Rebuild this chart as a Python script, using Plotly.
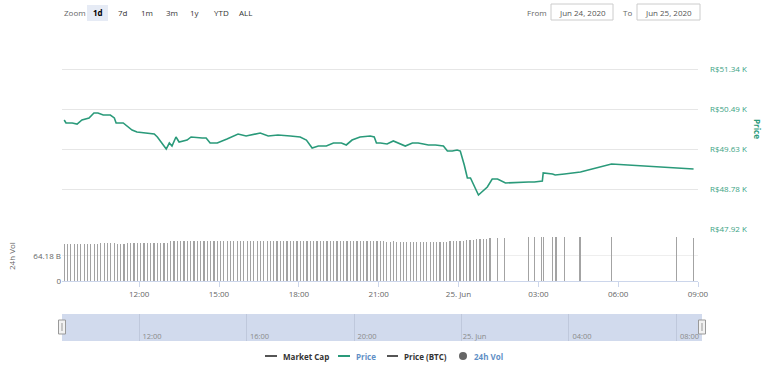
import plotly.graph_objects as go
import pandas as pd

# ---------------- data ----------------
price_times = [
    "2020-06-24 09:11", "2020-06-24 09:15", "2020-06-24 09:29", "2020-06-24 09:40", "2020-06-24 09:51",
    "2020-06-24 10:03", "2020-06-24 10:07", "2020-06-24 10:18", "2020-06-24 10:27", "2020-06-24 10:39",
    "2020-06-24 10:55", "2020-06-24 11:04", "2020-06-24 11:08", "2020-06-24 11:24", "2020-06-24 11:44",
    "2020-06-24 11:55", "2020-06-24 12:18", "2020-06-24 12:34", "2020-06-24 12:41", "2020-06-24 12:52",
    "2020-06-24 13:01", "2020-06-24 13:08", "2020-06-24 13:14", "2020-06-24 13:23", "2020-06-24 13:30",
    "2020-06-24 13:48", "2020-06-24 13:57", "2020-06-24 14:22", "2020-06-24 14:31", "2020-06-24 14:40",
    "2020-06-24 14:56", "2020-06-24 15:18", "2020-06-24 15:43", "2020-06-24 16:01", "2020-06-24 16:15",
    "2020-06-24 16:33", "2020-06-24 16:51", "2020-06-24 17:13", "2020-06-24 17:41", "2020-06-24 18:03",
    "2020-06-24 18:17", "2020-06-24 18:30", "2020-06-24 18:44", "2020-06-24 19:02", "2020-06-24 19:18",
    "2020-06-24 19:36", "2020-06-24 19:47", "2020-06-24 20:00", "2020-06-24 20:18", "2020-06-24 20:41",
    "2020-06-24 20:50", "2020-06-24 20:55", "2020-06-24 21:04", "2020-06-24 21:19", "2020-06-24 21:33",
    "2020-06-24 21:44", "2020-06-24 22:00", "2020-06-24 22:16", "2020-06-24 22:29", "2020-06-24 22:41",
    "2020-06-24 22:52", "2020-06-24 23:08", "2020-06-24 23:19", "2020-06-24 23:26", "2020-06-24 23:35",
    "2020-06-24 23:46", "2020-06-24 23:57", "2020-06-25 00:04", "2020-06-25 00:13", "2020-06-25 00:20",
    "2020-06-25 00:27", "2020-06-25 00:45", "2020-06-25 01:05", "2020-06-25 01:16", "2020-06-25 01:28",
    "2020-06-25 01:46", "2020-06-25 02:38", "2020-06-25 02:51", "2020-06-25 03:09", "2020-06-25 03:11",
    "2020-06-25 03:32", "2020-06-25 03:38", "2020-06-25 03:59", "2020-06-25 04:35", "2020-06-25 05:45",
    "2020-06-25 08:12", "2020-06-25 08:50",
]
price_values = [
    50250, 50186, 50186, 50164, 50250,
    50293, 50293, 50400, 50400, 50357,
    50357, 50293, 50186, 50186, 50036,
    49993, 49972, 49951, 49887, 49758,
    49630, 49758, 49694, 49887, 49780,
    49822, 49887, 49865, 49865, 49758,
    49758, 49844, 49951, 49908, 49929,
    49972, 49908, 49929, 49908, 49887,
    49822, 49651, 49694, 49694, 49758,
    49758, 49716, 49822, 49887, 49908,
    49887, 49758, 49758, 49737, 49801,
    49758, 49694, 49758, 49758, 49737,
    49716, 49716, 49694, 49694, 49587,
    49587, 49609, 49587, 49288, 49010,
    49010, 48647, 48818, 48989, 48989,
    48903, 48925, 48925, 48946, 49117,
    49095, 49074, 49095, 49138, 49309,
    49224, 49203,
]

# 24h volume (billions R$), dense section sampled every 7.5 minutes from 09:11
vol_dense_start = "2020-06-24 09:11"
vol_dense_values = [
    96.0, 96.2, 96.0, 95.8, 96.0, 96.1, 95.7, 95.9, 96.2, 96.0, 95.8, 96.3,
    96.8, 97.0, 96.9, 96.7, 95.6, 95.5, 95.8, 96.7, 96.9, 97.1, 97.3, 97.0,
    97.4, 97.6, 97.5, 97.8, 97.6, 97.4, 97.2, 97.7,
    102.8, 103.0, 103.1, 102.9, 103.2, 103.3, 103.1, 103.0, 102.7, 102.9,
    103.2, 103.4, 103.3, 103.1, 103.0, 102.6, 102.8, 103.1, 103.3, 103.2,
    102.9, 102.7, 102.5, 102.8, 103.0, 103.2, 103.1, 102.9, 102.6, 102.4,
    102.7, 103.0, 103.2, 103.3, 103.1, 102.8, 102.6, 102.9, 103.1, 103.2,
    103.0, 102.7, 102.5, 102.8, 103.0, 103.1, 102.9, 102.6, 102.4, 102.2,
    102.0, 101.8, 102.1, 102.3, 102.0, 101.7, 101.5, 101.8, 102.0, 101.9,
    101.6, 101.4, 101.7, 101.9, 101.6, 101.3, 101.2, 101.4,
    101.0, 100.8, 101.1, 100.9, 100.7, 101.0, 101.2, 100.9, 100.8, 101.0,
    101.1, 100.8, 100.7, 101.0, 101.2, 101.0, 101.4, 101.7,
    102.0, 102.8, 103.6, 104.5, 105.3, 106.0, 106.8, 107.6, 108.3, 109.0, 109.6,
]
vol_sparse_times = [
    "2020-06-25 01:28", "2020-06-25 01:44", "2020-06-25 02:38", "2020-06-25 02:51",
    "2020-06-25 03:08", "2020-06-25 03:11", "2020-06-25 03:32", "2020-06-25 03:40",
    "2020-06-25 03:59", "2020-06-25 04:34", "2020-06-25 05:45", "2020-06-25 08:12",
    "2020-06-25 08:50",
]
vol_sparse_values = [109.6, 109.6, 112.2, 112.2, 112.0, 112.2, 112.2, 112.0, 112.2, 112.2, 112.2, 112.0, 109.6]

x_tick_vals = ["2020-06-24 12:00", "2020-06-24 15:00", "2020-06-24 18:00", "2020-06-24 21:00",
               "2020-06-25 00:00", "2020-06-25 03:00", "2020-06-25 06:00", "2020-06-25 09:00"]
x_tick_text = ["12:00", "15:00", "18:00", "21:00", "25. Jun", "03:00", "06:00", "09:00"]

nav_tick_vals = ["2020-06-24 12:00", "2020-06-24 16:00", "2020-06-24 20:00",
                 "2020-06-25 00:00", "2020-06-25 04:00", "2020-06-25 08:00"]
nav_tick_text = ["12:00", "16:00", "20:00", "25. Jun", "04:00", "08:00"]

price_tick_vals = [47920, 48775, 49630, 50485, 51340, 52195]
price_tick_text = ["R$47.92 K", "R$48.78 K", "R$49.63 K", "R$50.49 K", "R$51.34 K", ""]

vol_tick_vals = [0, 64.18]
vol_tick_text = ["0", "64.18 B"]

zoom_buttons = ["1d", "7d", "1m", "3m", "1y", "YTD", "ALL"]
legend_names = ["Market Cap", "Price", "Price (BTC)", "24h Vol"]
date_from, date_to = "Jun 24, 2020", "Jun 25, 2020"

# ---------------- styling / layout helpers ----------------
W, H = 768, 367
L, R = 62, 66
PW = W - L - R
FONT = "Open Sans"
TEAL = "#2a9a7a"
TEAL_TXT = "#3ba384"


def px(x):
    return (x - L) / PW


def py(y):
    return 1 - y / H


vol_dense_times = pd.date_range(vol_dense_start, periods=len(vol_dense_values), freq="450s")

fig = go.Figure()

fig.add_trace(go.Scatter(
    x=price_times, y=price_values, xaxis="x", yaxis="y", mode="lines",
    line=dict(color=TEAL, width=1.6), hoverinfo="skip", showlegend=False))

fig.add_trace(go.Bar(
    x=list(vol_dense_times) + [pd.Timestamp(t) for t in vol_sparse_times],
    y=vol_dense_values + vol_sparse_values,
    xaxis="x", yaxis="y2", width=165000,
    marker=dict(color="#a3a3a3", line=dict(width=0)),
    hoverinfo="skip", showlegend=False))

# navigator (series hidden)
fig.add_trace(go.Scatter(
    x=price_times, y=price_values, xaxis="x2", yaxis="y3", mode="none",
    hoverinfo="skip", showlegend=False))

fig.update_layout(
    width=W, height=H,
    margin=dict(l=L, r=R, t=0, b=0, autoexpand=False),
    paper_bgcolor="white", plot_bgcolor="white",
    font=dict(family=FONT, size=8, color="#666"),
    hovermode=False, showlegend=False, bargap=0,
    xaxis=dict(
        type="date", domain=[0, 636 / PW], anchor="y2",
        range=["2020-06-24 09:06", "2020-06-25 09:00"],
        tickmode="array", tickvals=x_tick_vals, ticktext=x_tick_text,
        showgrid=False, zeroline=False,
        showline=True, linecolor="#ccd6eb", linewidth=1,
        ticks="outside", ticklen=5, tickcolor="#ccd6eb",
        tickfont=dict(size=8, color="#666"),
    ),
    yaxis=dict(
        domain=[py(229), py(29)], anchor="x", side="right",
        range=[47920, 52195],
        tickmode="array", tickvals=price_tick_vals, ticktext=price_tick_text,
        showgrid=True, gridcolor="#e6e6e6", gridwidth=1,
        zeroline=False, showline=False, ticks="",
        ticklabelstandoff=11,
        tickfont=dict(size=8, color=TEAL_TXT),
    ),
    yaxis2=dict(
        domain=[py(281), py(230)], anchor="x", side="left",
        range=[0, 130.9],
        tickmode="array", tickvals=vol_tick_vals, ticktext=vol_tick_text,
        showgrid=True, gridcolor="#eeeeee", gridwidth=1,
        zeroline=False, showline=False, ticks="",
        tickfont=dict(size=8, color="#666"),
    ),
    xaxis2=dict(
        type="date", domain=[0, 1], anchor="y3",
        range=["2020-06-24 09:08", "2020-06-25 08:57"],
        tickmode="array", tickvals=nav_tick_vals, ticktext=nav_tick_text,
        showgrid=True, gridcolor="#bfc8dc", gridwidth=1,
        zeroline=False, showline=False, ticks="",
        ticklabelposition="inside", ticklabelshift=13, ticklabelstandoff=-2,
        tickfont=dict(size=7.5, color="#8a8a8a"),
    ),
    yaxis3=dict(
        domain=[py(341), py(314)], anchor="x2", range=[0, 1],
        showgrid=False, zeroline=False, showticklabels=False, showline=False,
    ),
)

shapes = []
annotations = []

# navigator background
shapes.append(dict(type="rect", xref="x2 domain", yref="y3 domain", x0=0, x1=1, y0=0, y1=1,
                   fillcolor="rgb(209,218,237)", line=dict(width=0), layer="below"))
# navigator handles
for hx in (62, 702):
    shapes.append(dict(type="rect", xref="paper", yref="paper",
                       x0=px(hx - 3.5), x1=px(hx + 3.5), y0=py(334), y1=py(320),
                       fillcolor="#f2f2f2", line=dict(color="#999", width=1), layer="above"))
    shapes.append(dict(type="line", xref="paper", yref="paper",
                       x0=px(hx), x1=px(hx), y0=py(331), y1=py(323),
                       line=dict(color="#999", width=1), layer="above"))

# header: zoom buttons
annotations.append(dict(text="Zoom", xref="paper", yref="paper", x=px(62), y=py(13),
                        xanchor="left", yanchor="middle", showarrow=False,
                        font=dict(family=FONT, size=8, color="#666")))
btn_centers = [97.5, 123, 147, 172, 195, 221, 245]
shapes.append(dict(type="rect", xref="paper", yref="paper",
                   x0=px(87), x1=px(108), y0=py(21), y1=py(5),
                   fillcolor="#e6ebf5", line=dict(width=0), layer="below"))
for i, (lab, cx) in enumerate(zip(zoom_buttons, btn_centers)):
    annotations.append(dict(text=f"<b>{lab}</b>" if i == 0 else lab,
                            xref="paper", yref="paper", x=px(cx), y=py(13),
                            xanchor="center", yanchor="middle", showarrow=False,
                            font=dict(family=FONT, size=8, color="#000" if i == 0 else "#333")))

# header: date range inputs
annotations.append(dict(text="From", xref="paper", yref="paper", x=px(537), y=py(12),
                        xanchor="center", yanchor="middle", showarrow=False,
                        font=dict(family=FONT, size=8, color="#666")))
annotations.append(dict(text="To", xref="paper", yref="paper", x=px(627), y=py(12),
                        xanchor="center", yanchor="middle", showarrow=False,
                        font=dict(family=FONT, size=8, color="#666")))
for (x0, x1), txt in zip([(551, 613), (637, 700)], [date_from, date_to]):
    shapes.append(dict(type="rect", xref="paper", yref="paper",
                       x0=px(x0), x1=px(x1), y0=py(20), y1=py(4),
                       fillcolor="white", line=dict(color="#cccccc", width=1), layer="above"))
    annotations.append(dict(text=txt, xref="paper", yref="paper", x=px((x0 + x1) / 2), y=py(12),
                            xanchor="center", yanchor="middle", showarrow=False,
                            font=dict(family=FONT, size=8, color="#555")))

# axis titles
annotations.append(dict(text="<b>Price</b>", xref="paper", yref="paper", x=px(758), y=py(129),
                        xanchor="center", yanchor="middle", showarrow=False, textangle=90,
                        font=dict(family=FONT, size=8, color=TEAL)))
annotations.append(dict(text="24h Vol", xref="paper", yref="paper", x=px(11), y=py(256),
                        xanchor="center", yanchor="middle", showarrow=False, textangle=-90,
                        font=dict(family=FONT, size=8, color="#666")))

# legend (drawn manually, Highcharts style)
leg_y = 356
leg_specs = [
    (legend_names[0], "line", 265, 277, 281, "#555555", "#333333"),
    (legend_names[1], "line", 338, 350, 354, TEAL, "#5f8fc6"),
    (legend_names[2], "line", 387, 398, 402, "#555555", "#333333"),
    (legend_names[3], "dot", 463, 463, 472, "#666666", "#5f8fc6"),
]
for name, kind, s0, s1, tx, scol, tcol in leg_specs:
    if kind == "line":
        shapes.append(dict(type="line", xref="paper", yref="paper",
                           x0=px(s0), x1=px(s1), y0=py(leg_y), y1=py(leg_y),
                           line=dict(color=scol, width=2)))
    else:
        shapes.append(dict(type="circle", xref="paper", yref="paper",
                           x0=px(s0 - 4), x1=px(s0 + 4), y0=py(leg_y + 4), y1=py(leg_y - 4),
                           fillcolor=scol, line=dict(width=0)))
    annotations.append(dict(text=f"<b>{name}</b>", xref="paper", yref="paper", x=px(tx), y=py(leg_y),
                            xanchor="left", yanchor="middle", showarrow=False,
                            font=dict(family=FONT, size=8, color=tcol)))

fig.update_layout(shapes=shapes, annotations=annotations)

fig.write_html(
    "out.html",
    config={"displayModeBar": False, "staticPlot": True},
    post_script="document.body.style.margin='0';document.body.style.overflow='hidden';",
)
